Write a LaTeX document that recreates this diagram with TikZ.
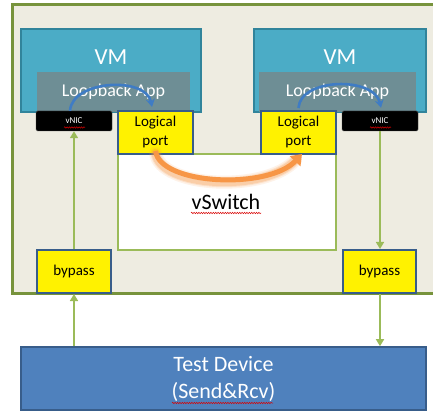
\documentclass[tikz,border=0pt]{standalone}
\usepackage{fontspec}
\setmainfont{Carlito}
\usetikzlibrary{arrows.meta,decorations.pathmorphing}
\definecolor{framefill}{HTML}{EEECE1}
\definecolor{frameline}{HTML}{77933C}
\definecolor{vmfill}{HTML}{4BACC6}
\definecolor{vmline}{HTML}{31849B}
\definecolor{grayfill}{HTML}{6E8E95}
\definecolor{portline}{HTML}{385D8A}
\definecolor{swline}{HTML}{9BBB59}
\definecolor{tdfill}{HTML}{4F81BD}
\definecolor{arcblue}{HTML}{3F7CC4}
\definecolor{orng}{HTML}{F79646}
\tikzset{
  vmbox/.style={draw=vmline, line width=2pt, fill=vmfill, minimum width=#1, minimum height=83pt, inner sep=0pt},
  appbox/.style={fill=grayfill, minimum width=#1, minimum height=40pt, inner sep=0pt, text=white, font=\fontsize{18}{20}\selectfont},
  vmtext/.style={text=white, font=\fontsize{23}{26}\selectfont, inner sep=0pt},
  nicbox/.style={fill=black, draw=black!70, rounded corners=1.5pt, minimum width=76pt, minimum height=20pt, inner sep=0pt, text=white, font=\fontsize{9}{10}\selectfont},
  portbox/.style={draw=portline, line width=2pt, fill=yellow, minimum width=#1, minimum height=43pt, inner sep=0pt, align=center, font=\fontsize{15}{19}\selectfont},
  swbox/.style={draw=swline, line width=2pt, fill=white, minimum width=218pt, minimum height=96pt, inner sep=0pt},
  garrow/.style={draw=swline, line width=1.6pt, -{Triangle[length=7pt,width=8pt]}},
  barc/.style={draw=arcblue, line width=2.6pt, -{Stealth[length=8pt,width=9pt]}},
  glow/.style={draw=orng, line cap=round, opacity=#1},
  squig/.style={draw=red!85!black, line width=0.5pt, decorate, decoration={snake, amplitude=0.7pt, segment length=2.4pt}},
}
\begin{document}
\begin{tikzpicture}[x=1pt,y=-1pt]
\useasboundingbox (0,0) rectangle (433,411);
\clip (0,0) rectangle (433,411);
% outer frame
\path[draw=frameline, line width=3pt, fill=framefill] (12,5) rectangle (445,293);
% vSwitch
\node[swbox] (sw) at (227,202) {};
\node[font=\fontsize{22}{26}\selectfont, inner sep=0pt] (swt) at (226,202) {vSwitch};
% VMs
\node[vmbox=180pt] (vm1) at (111,70.5) {};
\node[vmbox=172pt] (vm2) at (340,70.5) {};
\node[vmtext] (vm1t) at (111,57) {VM};
\node[vmtext] (vm2t) at (340,57) {VM};
\node[appbox=153pt] (app1) at (113.5,92) {Loopback App};
\node[appbox=157pt] (app2) at (337.5,92) {Loopback App};
% vNICs
\node[nicbox] (nic1) at (74,121) {vNIC};
\node[nicbox] (nic2) at (380,121) {vNIC};
% logical ports
\node[portbox=75pt] (lp1) at (155.5,132.5) {Logical\\port};
\node[portbox=75pt] (lp2) at (298.5,132.5) {Logical\\port};
% bypass
\node[portbox=74pt] (bp1) at (74,271.5) {bypass};
\node[portbox=73pt] (bp2) at (379.5,271.5) {bypass};
% test device
\node[draw=portline, line width=1.6pt, fill=tdfill, minimum width=405pt, minimum height=63pt, inner sep=0pt, text=white, align=center, font=\fontsize{22}{27}\selectfont] (td) at (223.5,378.5) {Test Device\\(Send\&Rcv)};
% green arrows
\draw[garrow] (bp1.south |- td.north) -- (bp1.south);
\draw[garrow] (bp1.north) -- (nic1.south);
\draw[garrow] (nic2.south) -- (bp2.north -| nic2.south);
\draw[garrow] (bp2.south -| nic2.south) -- (nic2.south |- td.north);
% blue arcs
\draw[barc] ([xshift=-4pt]nic1.north) .. controls (72,80) and (146,76) .. ([xshift=-3.5pt,yshift=3pt]lp1.north);
\draw[barc] ([yshift=2pt]lp2.north) .. controls (300,78) and (374,76) .. ([xshift=1pt,yshift=3pt]nic2.north);
% orange arrow with soft glow
\foreach \w/\o in {13/0.12, 10/0.18, 8/0.25}{
  \draw[glow=\o, line width=\w pt] ([yshift=2pt]lp1.south) .. controls (160,188) and (266,193) .. ([xshift=-3pt,yshift=-5pt]lp2.south);
}
\draw[orng, line width=5pt, -{Triangle[length=10pt,width=14pt]}] ([yshift=4pt]lp1.south) .. controls (160,185) and (268,190) .. ([xshift=3.5pt,yshift=1pt]lp2.south);
% spell-check squiggles
\draw[squig] (64,127.5) -- (85,127.5);
\draw[squig] (370,127.5) -- (391,127.5);
\draw[squig] (191,213) -- (261,213);
\draw[squig] (172,403) -- (273,403);
\end{tikzpicture}
\end{document}
